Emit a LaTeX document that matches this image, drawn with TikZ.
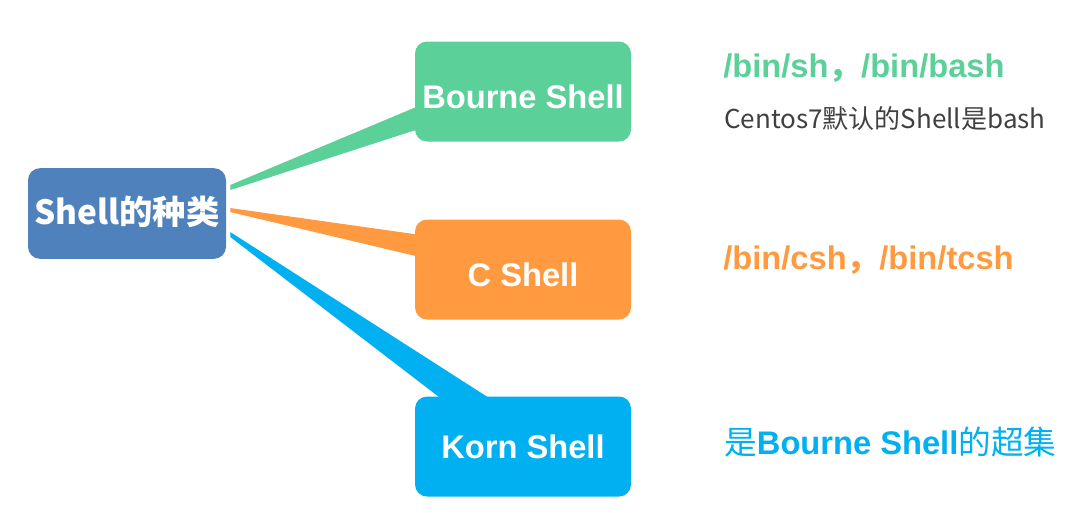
\documentclass[tikz,border=0pt]{standalone}
\usepackage{fontspec}
\setmainfont{Liberation Sans}
\newfontfamily\cjk{Noto Sans CJK SC}
\usetikzlibrary{backgrounds}
\definecolor{rootblue}{HTML}{4F81BD}
\definecolor{shellgreen}{HTML}{5BD099}
\definecolor{shellorange}{HTML}{FF9A40}
\definecolor{shellcyan}{HTML}{00B0F0}
\definecolor{notegray}{HTML}{404040}
\tikzset{
  shellbox/.style={rounded corners=9pt, minimum width=162pt, minimum height=75pt,
    inner sep=0pt, text=white, text height=17.5pt, text depth=0pt,
    font=\fontsize{24.5}{28}\selectfont\bfseries},
  lowtext/.style={text height=25.5pt},
  notetext/.style={anchor=base west, inner sep=0pt},
}
\begin{document}
\begin{tikzpicture}[x=0.75pt, y=-0.75pt]
          \useasboundingbox (0,0) rectangle (1083,512);

          \node [shellbox, fill=rootblue, minimum width=148.5pt, minimum height=68pt, text height=18pt, text depth=1pt,
            font=\cjk\fontsize{25}{28}\selectfont\bfseries] (root) at (127,213.5) {Shell的种类}; % Draws the root box

          \node [shellbox, lowtext, fill=shellgreen] (bourne) at (523,91.5) {Bourne Shell}; % Draws a box
          \node [shellbox, lowtext, fill=shellorange] (cshell) at (523,269.5) {C Shell}; % Draws a box
          \node [shellbox, fill=shellcyan] (korn) at (523,446.5) {Korn Shell}; % Draws a box

          \node [notetext, text=shellgreen, font=\fontsize{24.5}{28}\selectfont\bfseries] (bournepath) at (723,77) {/bin/sh{\cjk ，}/bin/bash};
          \node [notetext, text=notegray, font=\cjk\fontsize{19.5}{24}\selectfont] (bournenote) at (724,128) {Centos7默认的Shell是bash};
          \node [notetext, text=shellorange, font=\fontsize{24.5}{28}\selectfont\bfseries] (cpath) at (723,269) {/bin/csh{\cjk ，}/bin/tcsh};
          \node [notetext, text=shellcyan, font=\fontsize{24.5}{28}\selectfont] (kornnote) at (724,454) {{\cjk 是}\textbf{Bourne Shell}{\cjk 的超集}};

          \begin{scope}[on background layer]
            \fill [shellgreen] ([xshift=3pt,yshift=21.4pt]root.east) -- ([xshift=10pt,yshift=-7.9pt]bourne.west)
              -- ([xshift=10pt,yshift=-25.9pt]bourne.west) -- ([xshift=3pt,yshift=17.6pt]root.east) -- cycle;
            \fill [shellorange] ([xshift=3pt,yshift=4.1pt]root.east) -- ([xshift=10pt,yshift=25.1pt]cshell.west)
              -- ([xshift=10pt,yshift=7.9pt]cshell.west) -- ([xshift=3pt,yshift=1.1pt]root.east) -- cycle;
            \fill [shellcyan] ([xshift=3pt,yshift=-13.9pt]root.east) -- ([xshift=-15pt,yshift=-8pt]korn.north)
              -- ([xshift=-53.3pt,yshift=-8pt]korn.north) -- ([xshift=3pt,yshift=-17.6pt]root.east) -- cycle;
          \end{scope}
        \end{tikzpicture}
\end{document}
